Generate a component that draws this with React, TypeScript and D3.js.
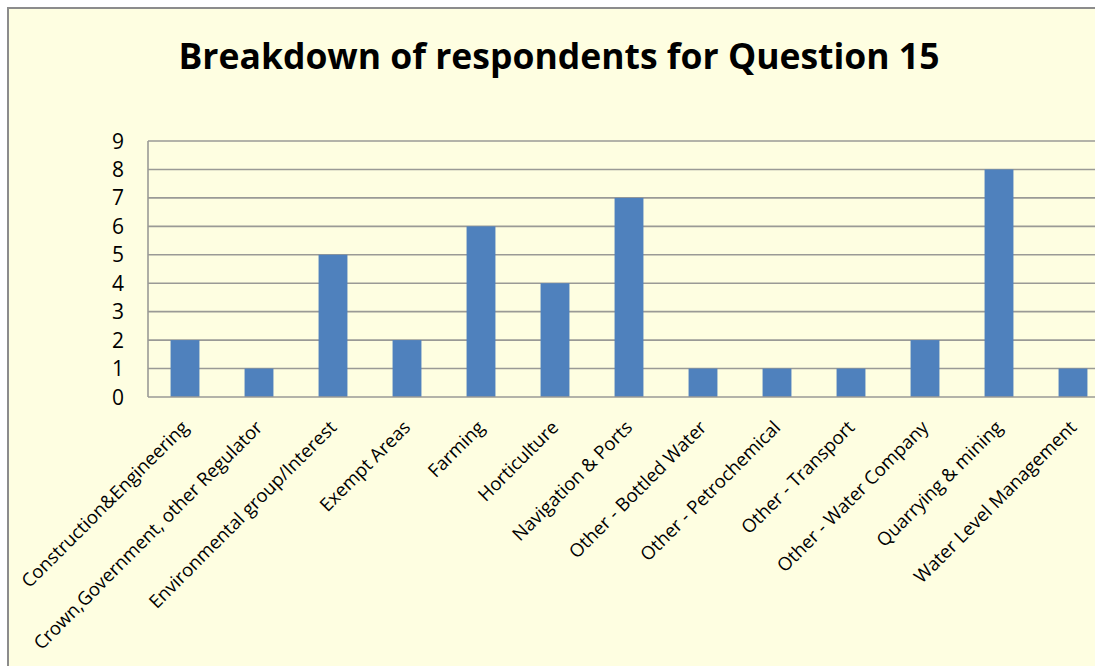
import React from "react";
import * as d3 from "d3";

const categories = [
  "Construction&Engineering",
  "Crown,Government, other Regulator",
  "Environmental group/Interest",
  "Exempt Areas",
  "Farming",
  "Horticulture",
  "Navigation & Ports",
  "Other - Bottled Water",
  "Other - Petrochemical",
  "Other - Transport",
  "Other - Water Company",
  "Quarrying & mining",
  "Water Level Management",
];
const values = [2, 1, 5, 2, 6, 4, 7, 1, 1, 1, 2, 8, 1];
const yTicks = [0, 1, 2, 3, 4, 5, 6, 7, 8, 9];
const title = "Breakdown of respondents for Question 15";

const W = 1095;
const H = 666;
const plot = { left: 148, top: 141, right: 1110, bottom: 397 };
const FONT = "'Open Sans', sans-serif";

export default function App() {
  const x = d3
    .scaleBand<string>()
    .domain(categories)
    .range([plot.left, plot.right])
    .paddingInner(0.61)
    .paddingOuter(0.305);
  const y = d3.scaleLinear().domain([0, 9]).range([plot.bottom, plot.top]);

  return (
    <svg
      width={W}
      height={H}
      style={{ position: "absolute", left: 0, top: 0, background: "#ffffff" }}
    >
      <rect x={8} y={8} width={1200} height={1000} fill="#FEFEE1" stroke="#8c8c8c" strokeWidth={2} />
      <text
        x={559}
        y={69}
        textAnchor="middle"
        fontFamily={FONT}
        fontWeight="bold"
        fontSize={35.5}
        fill="#000"
      >
        {title}
      </text>
      {yTicks.map((t) => (
        <g key={t}>
          {t > 0 && (
            <line x1={plot.left} x2={plot.right} y1={y(t)} y2={y(t)} stroke="#9a9a96" strokeWidth={1.6} />
          )}
          <text
            x={124}
            y={y(t)}
            dy="0.36em"
            textAnchor="end"
            fontFamily={FONT}
            fontSize={21}
            fill="#000"
          >
            {t}
          </text>
        </g>
      ))}
      {categories.map((c, i) => (
        <rect
          key={c}
          x={x(c)}
          y={y(values[i])}
          width={x.bandwidth()}
          height={y(0) - y(values[i])}
          fill="#4F81BD"
        />
      ))}
      <line x1={plot.left} x2={plot.left} y1={plot.top} y2={plot.bottom} stroke="#9a9a96" strokeWidth={1.6} />
      <line x1={plot.left} x2={plot.right} y1={plot.bottom} y2={plot.bottom} stroke="#9a9a96" strokeWidth={1.6} />
      {categories.map((c) => {
        const cx = (x(c) as number) + x.bandwidth() / 2;
        return (
          <text
            key={c}
            transform={`translate(${cx},${plot.bottom + 27}) rotate(-45)`}
            textAnchor="end"
            dy="0.35em"
            fontFamily={FONT}
            fontSize={18.5}
            fill="#000"
          >
            {c}
          </text>
        );
      })}
    </svg>
  );
}
